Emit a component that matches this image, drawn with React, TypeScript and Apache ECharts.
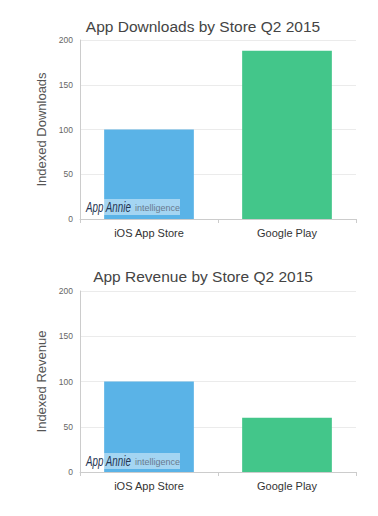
import React, { useEffect, useRef } from "react";
import * as echarts from "echarts";

const categories = ["iOS App Store", "Google Play"];
const downloads = [100, 188];
const revenue = [100, 60];
const barColors = ["#5ab3e7", "#43c68a"];
const titles = ["App Downloads by Store Q2 2015", "App Revenue by Store Q2 2015"];
const yNames = ["Indexed Downloads", "Indexed Revenue"];
const yMin = 0;
const yMax = 200;
const yInterval = 50;

const FONT = "Liberation Sans, Arial, Helvetica, sans-serif";

export default function App() {
  const ref = useRef<HTMLDivElement>(null);
  useEffect(() => {
    if (!ref.current) return;
    const chart = echarts.init(ref.current, undefined, { renderer: "svg" });
    const grids = [
      { left: 80, right: 22, top: 40, height: 179 },
      { left: 80, right: 22, top: 291, height: 181 },
    ];
    const seriesData = [downloads, revenue];
    const watermark = (yTop: number) => [
      {
        type: "rect",
        z: 100,
        shape: { x: 84, y: yTop, width: 96, height: 16 },
        style: { fill: "rgba(255,255,255,0.45)" },
      },
      {
        type: "text",
        z: 101,
        x: 86,
        y: yTop + 8,
        scaleX: 0.7,
        style: {
          text: "App Annie",
          fill: "#233350",
          font: "italic 14px 'Liberation Sans', sans-serif",
          verticalAlign: "middle",
        },
      },
      {
        type: "text",
        z: 101,
        x: 135,
        y: yTop + 8.5,
        style: {
          text: "intelligence",
          fill: "#687a8e",
          font: "9px 'Liberation Sans', sans-serif",
          verticalAlign: "middle",
        },
      },
    ];
    chart.setOption({
      animation: false,
      backgroundColor: "#ffffff",
      title: titles.map((t, i) => ({
        text: t,
        left: 198,
        textAlign: "center",
        top: i === 0 ? 13 : 263,
        textStyle: { fontFamily: FONT, fontSize: 15.5, fontWeight: "normal", color: "#444444" },
      })),
      grid: grids,
      xAxis: grids.map((_, i) => ({
        type: "category",
        gridIndex: i,
        data: categories,
        axisLine: { show: true, lineStyle: { color: "#cccccc" } },
        axisTick: { show: true, length: 4, lineStyle: { color: "#cccccc" } },
        axisLabel: { fontFamily: FONT, fontSize: 11, color: "#333333", margin: 8 },
      })),
      yAxis: grids.map((_, i) => ({
        type: "value",
        gridIndex: i,
        min: yMin,
        max: yMax,
        interval: yInterval,
        name: yNames[i],
        nameLocation: "middle",
        nameGap: 28,
        nameTextStyle: { fontFamily: FONT, fontSize: 13, color: "#555555" },
        axisLine: { show: true, lineStyle: { color: "#cccccc" } },
        axisTick: { show: false },
        axisLabel: { fontFamily: FONT, fontSize: 8.5, color: "#666666", margin: 7 },
        splitLine: { lineStyle: { color: "#ebebeb" } },
      })),
      series: seriesData.map((d, i) => ({
        type: "bar",
        xAxisIndex: i,
        yAxisIndex: i,
        barCategoryGap: "35%",
        data: d.map((v, j) => ({ value: v, itemStyle: { color: barColors[j] } })),
      })),
      graphic: [...watermark(199), ...watermark(453)],
    });
    return () => chart.dispose();
  }, []);
  return (
    <div
      ref={ref}
      style={{ position: "absolute", left: 0, top: 0, width: 378, height: 516 }}
    />
  );
}
